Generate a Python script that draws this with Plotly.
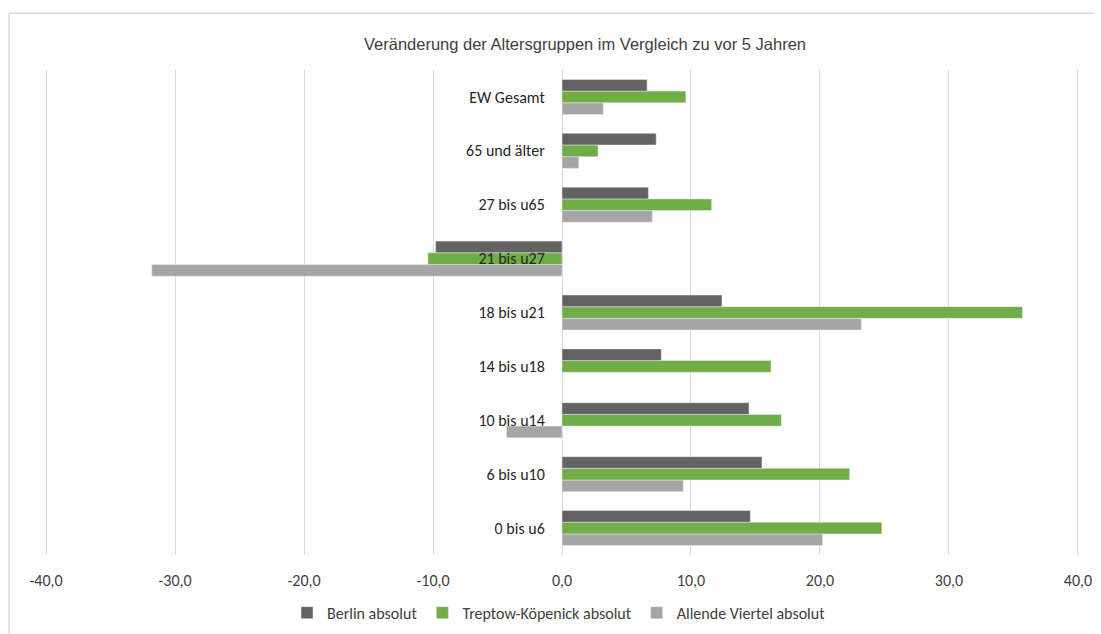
import plotly.graph_objects as go

categories = ["0 bis u6", "6 bis u10", "10 bis u14", "14 bis u18", "18 bis u21",
              "21 bis u27", "27 bis u65", "65 und älter", "EW Gesamt"]
berlin = [14.6, 15.5, 14.5, 7.7, 12.4, -9.8, 6.7, 7.3, 6.6]
treptow = [24.8, 22.3, 17.0, 16.2, 35.7, -10.4, 11.6, 2.8, 9.6]
allende = [20.2, 9.4, -4.3, 0.0, 23.2, -31.8, 7.0, 1.3, 3.2]

tick_vals = [-40, -30, -20, -10, 0, 10, 20, 30, 40]
tick_text = ["-40,0", "-30,0", "-20,0", "-10,0", "0,0", "10,0", "20,0", "30,0", "40,0"]

txt_font = "Carlito, Lato, 'Liberation Sans', sans-serif"

# the page puts the plot 8px in from the corner, so the margins make up for it
L, T, W, H = 37, 62, 1034, 487
frame = "#D9D9D9"

fig = go.Figure()
# added bottom-up so Berlin sits on top in each group
fig.add_trace(go.Bar(y=categories, x=allende, orientation="h", name="Allende Viertel absolut",
                     marker_color="#A5A5A5", legendrank=3))
fig.add_trace(go.Bar(y=categories, x=treptow, orientation="h", name="Treptow-Köpenick absolut",
                     marker_color="#70AD47", legendrank=2))
fig.add_trace(go.Bar(y=categories, x=berlin, orientation="h", name="Berlin absolut",
                     marker_color="#636363", legendrank=1))

fig.update_layout(
    width=1101, height=634,
    margin=dict(l=L, r=1101 - L - W, t=T, b=634 - T - H),
    paper_bgcolor="white", plot_bgcolor="white",
    barmode="group", bargap=0.35, bargroupgap=0,
    font=dict(family=txt_font, size=16, color="#404040"),
    title=dict(text="Veränderung der Altersgruppen im Vergleich zu vor 5 Jahren",
               x=(577 - L) / W, xref="paper", xanchor="center",
               y=1 - 36 / 634, yanchor="middle",
               font=dict(family="'Liberation Sans Narrow', 'Arial Narrow', sans-serif",
                         size=16.5, color="#404040")),
    xaxis=dict(range=[-40.08, 40.08], tickvals=tick_vals, ticktext=tick_text,
               showgrid=True, gridcolor="#D9D9D9", gridwidth=1,
               zeroline=False, showline=False, ticks="", ticklabelstandoff=14,
               tickfont=dict(size=16, color="#404040")),
    yaxis=dict(anchor="free", position=0.5, showgrid=False, zeroline=False,
               showline=False, ticks="outside", ticklen=0, ticklabelstandoff=14,
               tickfont=dict(size=16, color="#262626")),
    legend=dict(orientation="h", x=(551 - L) / W, xanchor="center",
                y=(T + H - 607) / H, yanchor="middle",
                font=dict(size=16, color="#404040"), itemwidth=30),
    shapes=[
        # chart frame: only its left and top edges fall inside the picture
        dict(type="line", xref="paper", yref="paper",
             x0=(1 - L) / W, x1=(1 - L) / W, y0=-0.4, y1=(T + H - 5) / H,
             line=dict(color=frame, width=1.5), layer="below"),
        dict(type="line", xref="paper", yref="paper",
             x0=(1 - L) / W, x1=1.2, y0=(T + H - 5) / H, y1=(T + H - 5) / H,
             line=dict(color=frame, width=1.5), layer="below"),
    ],
)

fig.write_html("out.html")
